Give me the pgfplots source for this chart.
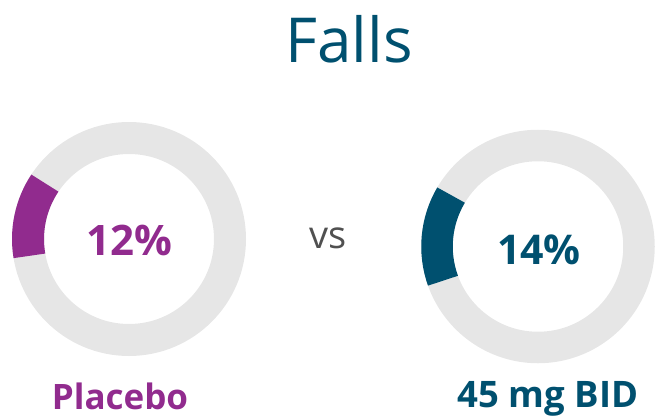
\documentclass[border=0pt]{standalone}
\usepackage{pgfplots}
\pgfplotsset{compat=1.18}
\usepackage{fontspec}
\setmainfont{Open Sans}
\definecolor{ringgray}{HTML}{E6E6E6}
\definecolor{plum}{HTML}{912B8E}
\definecolor{teal}{HTML}{00506F}
\definecolor{vsgray}{HTML}{505050}
% values (%) and slice start angles
\def\valA{12}\def\startA{146.4}
\def\valB{14}\def\startB{149.4}
\begin{document}
\begin{tikzpicture}
\begin{axis}[
  at={(0,0)}, anchor=south west,
  width=656pt, height=416pt, scale only axis,
  xmin=0, xmax=656, ymin=0, ymax=416,
  hide axis, clip=false]
% left donut
\draw[ringgray, line width=32pt] (axis cs:129,177) circle[radius=101pt];
\pgfmathsetmacro\endA{\startA+3.6*\valA}
\draw[plum, line width=32pt] (axis cs:{129+101*cos(\startA)},{177+101*sin(\startA)}) arc[start angle=\startA, end angle=\endA, radius=101pt];
% right donut
\draw[ringgray, line width=31.5pt] (axis cs:538,169.5) circle[radius=101pt];
\pgfmathsetmacro\endB{\startB+3.6*\valB}
\draw[teal, line width=31.5pt] (axis cs:{538+101*cos(\startB)},{169.5+101*sin(\startB)}) arc[start angle=\startB, end angle=\endB, radius=101pt];
% texts
\node[anchor=base, text=teal, font=\fontsize{62}{70}\selectfont] at (axis cs:349,353) {Falls};
\node[anchor=base, text=plum, font=\bfseries\fontsize{42}{48}\selectfont] at (axis cs:129,161) {\valA\%};
\node[anchor=base, text=teal, font=\bfseries\fontsize{41}{48}\selectfont] at (axis cs:539,152) {\valB\%};
\node[anchor=base, text=vsgray, font=\fontsize{38}{44}\selectfont] at (axis cs:328,168) {vs};
\node[anchor=base, text=plum, font=\bfseries\fontsize{35}{40}\selectfont] at (axis cs:120,7) {Placebo};
\node[anchor=base, text=teal, font=\bfseries\fontsize{36.5}{40}\selectfont] at (axis cs:548,9) {45 mg BID};
\end{axis}
\pgfresetboundingbox
\useasboundingbox (0,0) rectangle (656pt,416pt);
\end{tikzpicture}
\end{document}
